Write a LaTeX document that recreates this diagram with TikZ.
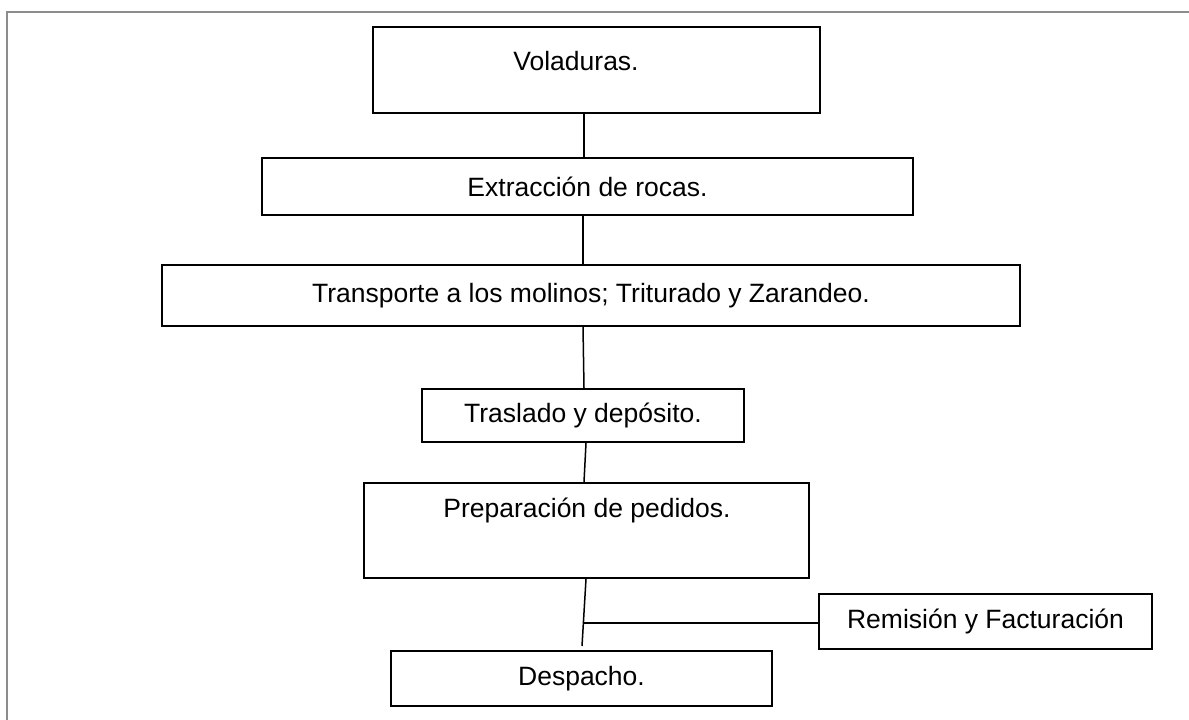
\documentclass[tikz,border=0pt]{standalone}
\usepackage{fontspec}
\setmainfont{Liberation Sans}
\begin{document}
\begin{tikzpicture}[x=1pt,y=-1pt,
  box/.style={draw=black,line width=2pt,inner sep=0pt,fill=white},
  txt/.style={inner sep=0pt,font=\fontsize{26.5}{30}\selectfont},
  conn/.style={draw=black,line width=1.5pt},
  frame/.style={draw=gray!90,line width=1.6pt}]
\useasboundingbox (0,0) rectangle (1189,720);
\fill[white] (0,0) rectangle (1189,720);
\draw[frame] (7,720) -- (7,12) -- (1189,12);

\node[box,minimum width=447pt,minimum height=86pt] (vol) at (596.5,70) {};
\node[txt] (voltxt) at (576,61) {Voladuras.};
\node[box,txt,minimum width=651pt,minimum height=57pt] (ext) at (587.5,186.5) {Extracción de rocas.};
\node[box,txt,minimum width=858pt,minimum height=61pt] (tra) at (591,295.5) {Transporte a los molinos; Triturado y Zarandeo.};
\node[box,txt,minimum width=322pt,minimum height=53pt] (tras) at (583,415.5) {Traslado y depósito.};
\node[box,minimum width=445pt,minimum height=95pt] (prep) at (586.5,530.5) {};
\node[txt] (preptxt) at (587,510) {Preparación de pedidos.};
\node[box,txt,minimum width=333pt,minimum height=55pt] (rem) at (985.5,621.5) {Remisión y Facturación};
\node[box,txt,minimum width=381pt,minimum height=55pt] (desp) at (581.5,678.5) {Despacho.};

\draw[conn] ([xshift=-12.5pt]vol.south) -- ([xshift=-3.5pt]ext.north);
\draw[conn] ([xshift=-4.5pt]ext.south) -- ([xshift=-8pt]tra.north);
\draw[conn] ([xshift=-8pt]tra.south) -- ([xshift=1pt]tras.north);
\draw[conn] ([xshift=3pt]tras.south) -- ([xshift=-2.5pt]prep.north);
\draw[conn] ([xshift=-0.5pt]prep.south) -- ([xshift=0.5pt,yshift=4pt]desp.north);
\coordinate (j) at (583.4,623);
\draw[conn] (j) -- (j -| rem.west);
\end{tikzpicture}
\end{document}
